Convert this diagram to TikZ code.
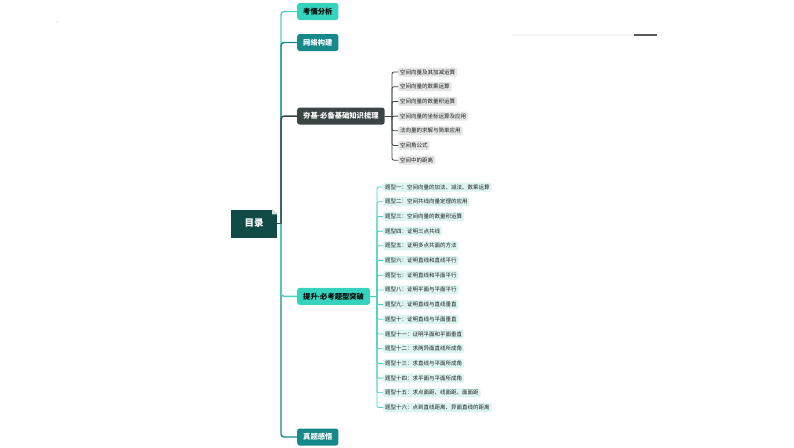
\documentclass[tikz,border=0pt]{standalone}
\usepackage{fontspec}
\usetikzlibrary{calc}
\newfontfamily\cjk{Noto Sans CJK SC}
\newfontfamily\latdot{Liberation Sans}
\newcommand{\mdot}{{\latdot\bfseries ·}}
\definecolor{rootc}{HTML}{0F4A47}
\definecolor{lteal}{HTML}{35D3BD}
\definecolor{tealc}{HTML}{17898A}
\definecolor{dgray}{HTML}{3A4644}
\definecolor{itemg}{HTML}{E4E6E5}
\definecolor{itemm}{HTML}{DDF5F0}
\definecolor{linelt}{HTML}{4FD0BF}
\begin{document}
\begin{tikzpicture}[x=1pt,y=-1pt,
  mainbox/.style={rounded corners=2.5pt, minimum height=17pt, inner xsep=6pt, inner ysep=0pt, anchor=west, font=\cjk\bfseries\fontsize{7.3}{8}\selectfont},
  itembox/.style={rounded corners=1.5pt, minimum height=9pt, inner xsep=2pt, inner ysep=0pt, anchor=west, text=black!88, font=\cjk\fontsize{5.5}{6}\selectfont},
  spine/.style={line width=1.4pt, rounded corners=3pt},
  subline/.style={line width=0.8pt, rounded corners=2pt}]
\useasboundingbox (0,0) rectangle (794,447);
\fill[white] (0,0) rectangle (794,447);
% decoration
\fill[gray!45] (57,22) circle (0.6);
\draw[line width=1.5pt, color=gray!8] (512,35) -- (634,35);
\draw[line width=2pt, color=black!65] (634,35) -- (657,35);
% root
\node[fill=rootc, text=white, minimum width=46pt, minimum height=28pt, inner sep=0pt, font=\cjk\bfseries\fontsize{9.5}{10}\selectfont] (root) at (254,223.5) {目录};
\fill[white] ($(root.north east)+(-5,0)$) -- (root.north east) -- ($(root.north east)+(0,5)$) -- cycle;
\fill[gray!25] ($(root.north east)+(-5,0)$) -- ($(root.north east)+(-5,5)$) -- ($(root.north east)+(0,5)$) -- cycle;
\coordinate (sp) at (281,223.5);
% main branches
\node[mainbox, fill=lteal, text=black] (k1) at (297,11.5) {考情分析};
\node[mainbox, fill=tealc, text=white] (k2) at (297,42.5) {网络构建};
\node[mainbox, fill=dgray, text=white] (k3) at (297,116.1) {夯基\mdot 必备基础知识梳理};
\node[mainbox, fill=lteal, text=black] (k4) at (297,296.3) {提升\mdot 必考题型突破};
\node[mainbox, fill=tealc, text=white] (k5) at (297,437) {真题感悟};
\draw[spine, linelt] (sp) |- (k1.west);
\draw[spine, tealc] (sp) |- (k2.west);
\draw[spine, dgray] (sp) |- (k3.west);
\draw[spine, tealc] (sp) |- (k5.west);
\draw[spine, linelt] (sp) |- (k4.west);
\draw[line width=1.4pt, dgray] (root.east) -- (sp);
% sub-branches of k3
\coordinate (hs) at (392,116.1);
\draw[line width=0.8pt, dgray] (k3.east) -- (hs);
\foreach \t [count=\i from 0] in {空间向量及其加减运算,空间向量的数乘运算,空间向量的数量积运算,空间向量的坐标运算及应用,法向量的求解与简单应用,空间角公式,空间中的距离}{
  \node[itembox, fill=itemg] (a\i) at (398,72+14.7*\i) {\t};
  \draw[subline, dgray] (hs) |- (a\i.west);
}
% sub-branches of k4
\coordinate (ts) at (377,296.3);
\draw[line width=0.8pt, linelt] (k4.east) -- (ts);
\foreach \t [count=\i from 0] in {题型一：空间向量的加法、减法、数乘运算,题型二：空间共线向量定理的应用,题型三：空间向量的数量积运算,题型四：证明三点共线,题型五：证明多点共面的方法,题型六：证明直线和直线平行,题型七：证明直线和平面平行,题型八：证明平面与平面平行,题型九：证明直线与直线垂直,题型十：证明直线与平面垂直,题型十一：证明平面和平面垂直,题型十二：求两异面直线所成角,题型十三：求直线与平面所成角,题型十四：求平面与平面所成角,题型十五：求点面距、线面距、面面距,题型十六：点到直线距离、异面直线的距离}{
  \node[itembox, fill=itemm] (b\i) at (383,187+14.7*\i) {\t};
  \draw[subline, linelt] (ts) |- (b\i.west);
}
\end{tikzpicture}
\end{document}
